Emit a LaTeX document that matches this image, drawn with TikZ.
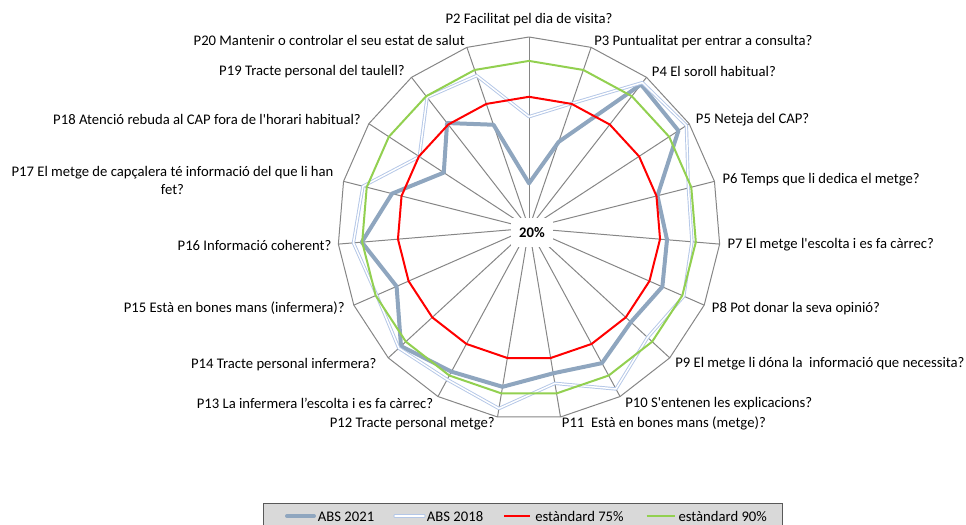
\documentclass[tikz,border=0pt]{standalone}
\usepackage{fontspec}
\setmainfont{Carlito}
\usepackage{tikz}
\definecolor{gridgray}{RGB}{134,134,134}
\definecolor{abs21}{RGB}{143,166,191}
\definecolor{abs18}{RGB}{180,199,231}
\definecolor{std75}{RGB}{255,0,0}
\definecolor{std90}{RGB}{146,208,80}
\definecolor{legfill}{RGB}{217,217,217}
\definecolor{legborder}{RGB}{89,89,89}

\begin{document}
\begin{tikzpicture}[x=0.75pt,y=-0.75pt,
  every node/.style={font=\fontsize{11}{13}\selectfont, inner sep=0pt},
  spoke/.style={draw=gridgray, line width=0.75pt},
  rim/.style={draw=gridgray, line width=0.75pt, line join=round},
  abs21line/.style={draw=abs21, line width=3pt, line join=round},
  abs18line/.style={draw=abs18, line width=0.7pt, double=white, double distance=1.1pt, line join=round},
  std75line/.style={draw=std75, line width=1.5pt, line join=round},
  std90line/.style={draw=std90, line width=1.5pt, line join=round}]
\useasboundingbox (0,0) rectangle (966,524);

\begin{scope}[shift={(529,228.3)}]
\coordinate (O) at (0,0);
\coordinate (v2) at (-90:191.3);
\coordinate (v3) at (-71.053:191.3);
\coordinate (v4) at (-52.105:191.3);
\coordinate (v5) at (-33.158:191.3);
\coordinate (v6) at (-14.211:191.3);
\coordinate (v7) at (4.737:191.3);
\coordinate (v8) at (23.684:191.3);
\coordinate (v9) at (42.632:191.3);
\coordinate (v10) at (61.579:191.3);
\coordinate (v11) at (80.526:191.3);
\coordinate (v12) at (99.474:191.3);
\coordinate (v13) at (118.421:191.3);
\coordinate (v14) at (137.368:191.3);
\coordinate (v15) at (156.316:191.3);
\coordinate (v16) at (175.263:191.3);
\coordinate (v17) at (194.211:191.3);
\coordinate (v18) at (213.158:191.3);
\coordinate (v19) at (232.105:191.3);
\coordinate (v20) at (251.053:191.3);

% spokes and outer ring
\draw[spoke] (O) -- (v2);
\draw[spoke] (O) -- (v3);
\draw[spoke] (O) -- (v4);
\draw[spoke] (O) -- (v5);
\draw[spoke] (O) -- (v6);
\draw[spoke] (O) -- (v7);
\draw[spoke] (O) -- (v8);
\draw[spoke] (O) -- (v9);
\draw[spoke] (O) -- (v10);
\draw[spoke] (O) -- (v11);
\draw[spoke] (O) -- (v12);
\draw[spoke] (O) -- (v13);
\draw[spoke] (O) -- (v14);
\draw[spoke] (O) -- (v15);
\draw[spoke] (O) -- (v16);
\draw[spoke] (O) -- (v17);
\draw[spoke] (O) -- (v18);
\draw[spoke] (O) -- (v19);
\draw[spoke] (O) -- (v20);
\draw[rim] (v2) -- (v3) -- (v4) -- (v5) -- (v6) -- (v7) -- (v8) -- (v9) -- (v10) -- (v11) -- (v12) -- (v13) -- (v14) -- (v15) -- (v16) -- (v17) -- (v18) -- (v19) -- (v20) -- cycle;

% ABS 2021
\draw[abs21line] (-90:45) -- (-71.053:91.4) -- (-52.105:182.3) -- (-33.158:178.5) -- (-14.211:132.5) -- (4.737:138.5) -- (23.684:145.6) -- (42.632:138.5) -- (61.579:153.3) -- (80.526:147) -- (99.474:160.7) -- (118.421:163) -- (137.368:174) -- (156.316:144.6) -- (175.263:167.8) -- (194.211:141.3) -- (213.158:101.8) -- (232.105:133.4) -- (251.053:109.5) -- cycle;
% ABS 2018
\draw[abs18line] (-90:111.6) -- (-71.053:132) -- (-52.105:184.6) -- (-33.158:188) -- (-14.211:164.4) -- (4.737:163.5) -- (23.684:169) -- (42.632:161.2) -- (61.579:182.7) -- (80.526:157.2) -- (99.474:182.7) -- (118.421:172) -- (137.368:177) -- (156.316:166.3) -- (175.263:176.2) -- (194.211:171.3) -- (213.158:131) -- (232.105:165.9) -- (251.053:161.4) -- cycle;
% estandard 75%
\draw[std75line] (-90:131.5) -- (-71.053:131.5) -- (-52.105:131.5) -- (-33.158:131.5) -- (-14.211:131.5) -- (4.737:131.5) -- (23.684:131.5) -- (42.632:131.5) -- (61.579:131.5) -- (80.526:131.5) -- (99.474:131.5) -- (118.421:131.5) -- (137.368:131.5) -- (156.316:131.5) -- (175.263:131.5) -- (194.211:131.5) -- (213.158:131.5) -- (232.105:131.5) -- (251.053:131.5) -- cycle;
% estandard 90%
\draw[std90line] (-90:167.4) -- (-71.053:167.4) -- (-52.105:167.4) -- (-33.158:167.4) -- (-14.211:167.4) -- (4.737:167.4) -- (23.684:167.4) -- (42.632:167.4) -- (61.579:167.4) -- (80.526:167.4) -- (99.474:167.4) -- (118.421:167.4) -- (137.368:167.4) -- (156.316:167.4) -- (175.263:167.4) -- (194.211:167.4) -- (213.158:167.4) -- (232.105:167.4) -- (251.053:167.4) -- cycle;

\node[fill=white, minimum width=32pt, minimum height=22pt, font=\fontsize{11}{13}\selectfont\bfseries] (c20) at (3,4.5) {20\%};
\end{scope}

% axis labels
\node (l2) at (529,20) {P2 Facilitat pel dia de visita?};
\node[anchor=west] (l3) at (594,41.7) {P3 Puntualitat per entrar a consulta?};
\node[anchor=west] (l4) at (651.7,71.7) {P4 El soroll habitual?};
\node[anchor=west] (l5) at (695.7,119.3) {P5 Neteja del CAP?};
\node[anchor=west] (l6) at (722.3,180) {P6 Temps que li dedica el metge?};
\node[anchor=west] (l7) at (727.3,245) {P7 El metge l\textquotesingle escolta i es fa càrrec?};
\node[anchor=west] (l8) at (711.7,308.3) {P8 Pot donar la seva opinió?};
\node[anchor=west] (l9) at (675,363.3) {P9 El metge li dóna la~~informació que necessita?};
\node[anchor=west] (l10) at (625,403.3) {P10 S\textquotesingle entenen les explicacions?};
\node[anchor=west] (l11) at (561.7,423.3) {P11~~Està en bones mans (metge)?};
\node[anchor=east] (l12) at (495,423.3) {P12 Tracte personal metge?};
\node[anchor=east] (l13) at (433.3,403.3) {P13 La infermera l’escolta i es fa càrrec?};
\node[anchor=east] (l14) at (376.7,365) {P14 Tracte personal infermera?};
\node[anchor=east] (l15) at (345,308.3) {P15 Està en bones mans (infermera)?};
\node[anchor=east] (l16) at (331.7,245) {P16 Informació coherent?};
\node[align=center] (l17) at (172.5,180.3) {P17 El metge de capçalera té informació del que li han\\fet?};
\node[anchor=east] (l18) at (361,119.3) {P18 Atenció rebuda al CAP fora de l\textquotesingle horari habitual?};
\node[anchor=east] (l19) at (405,71.7) {P19 Tracte personal del taulell?};
\node[anchor=east] (l20) at (465,40.7) {P20 Mantenir o controlar el seu estat de salut};

% legend
\draw[fill=legfill, draw=legborder, line width=0.75pt] (263,503) rectangle (782,532);
\draw[abs21line, line cap=round] (287,516) -- (314,516);
\node[anchor=west] (k21) at (317.7,516.8) {ABS 2021};
\draw[abs18line, line cap=round] (395,516) -- (424,516);
\node[anchor=west] (k18) at (426.7,516.8) {ABS 2018};
\draw[std75line] (504,516) -- (530,516);
\node[anchor=west] (k75) at (535,516.8) {estàndard 75\%};
\draw[std90line] (646.7,516) -- (675,516);
\node[anchor=west] (k90) at (678.3,516.8) {estàndard 90\%};
\end{tikzpicture}
\end{document}
